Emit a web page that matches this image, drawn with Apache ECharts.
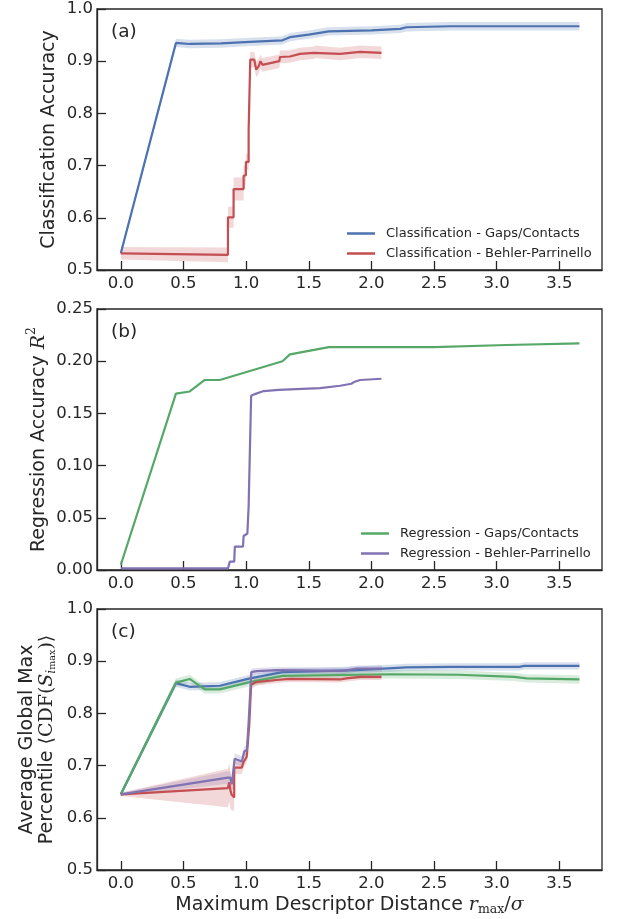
<!DOCTYPE html>
<html>
<head>
<meta charset="utf-8">
<script src="https://cdn.jsdelivr.net/npm/echarts@6/dist/echarts.min.js"></script>
<style>html,body{margin:0;padding:0;background:#fff}#c{width:633px;height:919px}</style>
</head>
<body>
<div id="c"></div>
<script>
// ---------- tick values ----------
const xTicks = [0, 0.5, 1.0, 1.5, 2.0, 2.5, 3.0, 3.5];

// ---------- panel (a): classification accuracy ----------
const aGapsX = [0, 0.44, 0.55, 0.80, 1.03, 1.29, 1.35, 1.50, 1.66, 2.00, 2.23, 2.28, 2.63, 3.20, 3.66];
const aGapsY = [0.532, 0.935, 0.933, 0.934, 0.937, 0.940, 0.946, 0.951, 0.957, 0.959, 0.962, 0.965, 0.967, 0.967, 0.967];
const aGapsErr = [0.005, 0.008, 0.008, 0.008, 0.008, 0.008, 0.008, 0.008, 0.008, 0.008, 0.008, 0.008, 0.008, 0.008, 0.008];

const aBPX = [0, 0.855, 0.855, 0.90, 0.90, 0.98, 0.98, 0.998, 0.998, 1.02, 1.02, 1.033, 1.065, 1.08, 1.10, 1.115, 1.13, 1.265, 1.27, 1.35, 1.43, 1.54, 1.55, 1.75, 1.91, 2.08];
const aBPY = [0.532, 0.529, 0.601, 0.601, 0.655, 0.655, 0.681, 0.681, 0.707, 0.707, 0.767, 0.903, 0.903, 0.884, 0.890, 0.900, 0.893, 0.900, 0.908, 0.909, 0.914, 0.916, 0.918, 0.914, 0.918, 0.916];
const aBPErr = [0.012, 0.014, 0.020, 0.020, 0.022, 0.022, 0.018, 0.018, 0.015, 0.015, 0.015, 0.015, 0.014, 0.015, 0.014, 0.013, 0.013, 0.013, 0.012, 0.012, 0.012, 0.012, 0.012, 0.012, 0.012, 0.012];

// ---------- panel (b): regression accuracy R^2 ----------
const bGapsX = [0, 0.44, 0.55, 0.67, 0.79, 1.29, 1.35, 1.66, 2.50, 3.08, 3.66];
const bGapsY = [0.005, 0.169, 0.171, 0.182, 0.182, 0.200, 0.2065, 0.2135, 0.2135, 0.2155, 0.217];

const bBPX = [0, 0.855, 0.87, 0.905, 0.91, 0.975, 0.98, 1.01, 1.02, 1.03, 1.04, 1.07, 1.14, 1.26, 1.59, 1.75, 1.84, 1.86, 1.91, 1.92, 2.08];
const bBPY = [0.0015, 0.0015, 0.008, 0.008, 0.0224, 0.0224, 0.0326, 0.035, 0.0607, 0.062, 0.167, 0.1685, 0.1714, 0.1726, 0.1742, 0.1765, 0.1784, 0.180, 0.182, 0.1832, 0.1832];

// ---------- panel (c): average global max percentile ----------
const cCGX = [0, 0.44, 0.55, 0.79, 1.03, 1.29, 1.88, 2.28, 2.63, 3.18, 3.22, 3.66];
const cCGY = [0.645, 0.858, 0.851, 0.853, 0.867, 0.879, 0.883, 0.888, 0.889, 0.889, 0.891, 0.891];
const cCGErr = [0.004, 0.007, 0.007, 0.007, 0.007, 0.007, 0.007, 0.007, 0.007, 0.007, 0.007, 0.007];

const cRGX = [0, 0.44, 0.55, 0.67, 0.79, 1.03, 1.29, 2.15, 2.69, 3.14, 3.24, 3.66];
const cRGY = [0.645, 0.859, 0.866, 0.846, 0.846, 0.860, 0.872, 0.875, 0.874, 0.870, 0.867, 0.865];
const cRGErr = [0.004, 0.008, 0.008, 0.008, 0.008, 0.008, 0.008, 0.008, 0.008, 0.008, 0.008, 0.008];

const cCBX = [0, 0.855, 0.865, 0.875, 0.885, 0.905, 0.905, 0.965, 0.98, 1.005, 1.01, 1.025, 1.04, 1.08, 1.24, 1.35, 1.75, 1.80, 1.91, 2.08];
const cCBY = [0.645, 0.657, 0.668, 0.652, 0.644, 0.639, 0.696, 0.696, 0.707, 0.717, 0.720, 0.778, 0.855, 0.860, 0.864, 0.866, 0.865, 0.867, 0.870, 0.870];
const cCBErr = [0.003, 0.037, 0.037, 0.035, 0.030, 0.025, 0.012, 0.012, 0.012, 0.010, 0.010, 0.010, 0.008, 0.007, 0.006, 0.006, 0.006, 0.006, 0.006, 0.006];

const cRBX = [0, 0.855, 0.873, 0.886, 0.90, 0.908, 0.966, 0.985, 1.006, 1.019, 1.041, 1.086, 1.246, 1.778, 1.884, 2.084];
const cRBY = [0.645, 0.677, 0.677, 0.6645, 0.6645, 0.713, 0.708, 0.727, 0.730, 0.778, 0.879, 0.881, 0.883, 0.8815, 0.886, 0.886];
const cRBErr = [0.003, 0.012, 0.012, 0.010, 0.010, 0.010, 0.010, 0.010, 0.008, 0.008, 0.007, 0.006, 0.006, 0.006, 0.006, 0.006];

// ---------- style ----------
const BLUE = '#4C72B0', GREEN = '#55A868', RED = '#C44E52', PURPLE = '#8172B2';
const INK = '#262626';
const FONT = 'DejaVu Sans';

const chart = echarts.init(document.getElementById('c'), null, {renderer: 'canvas'});

function zip(xs, ys) { return xs.map((x, i) => [x, ys[i]]); }

function lineSeries(name, gi, xs, ys, color, z) {
  return {
    name, type: 'line', xAxisIndex: gi, yAxisIndex: gi, data: zip(xs, ys),
    showSymbol: false, symbol: 'none', z: z || 3, animation: false,
    lineStyle: {color, width: 2.2}, itemStyle: {color}
  };
}

function bandSeries(gi, xs, ys, err, color) {
  const data = xs.map((x, i) => [x, ys[i] - err[i], ys[i] + err[i]]);
  return {
    type: 'custom', xAxisIndex: gi, yAxisIndex: gi, data, silent: true, z: 1, animation: false,
    encode: {x: 0, y: [1, 2]},
    renderItem(params, api) {
      if (params.dataIndex !== 0) return null;
      const up = [], lo = [];
      for (const d of data) {
        up.push(api.coord([d[0], d[2]]));
        lo.push(api.coord([d[0], d[1]]));
      }
      return {type: 'polygon', shape: {points: up.concat(lo.reverse())},
              style: {fill: color, opacity: 0.22}};
    }
  };
}

const grids = [
  {left: 97, right: 31, top: 9, height: 261},
  {left: 97, right: 31, top: 309, height: 261},
  {left: 97, right: 31, top: 609, height: 261}
].map(g => Object.assign(g, {show: true, borderColor: INK, borderWidth: 1.3, backgroundColor: 'transparent'}));

function xAxis(gi, withName) {
  const ax = {
    type: 'value', gridIndex: gi, min: -0.19, max: 3.84,
    axisLine: {show: true, onZero: false, lineStyle: {color: INK, width: 1.3}},
    axisTick: {show: true, inside: true, length: 9, lineStyle: {color: INK, width: 1.3}, customValues: xTicks},
    axisLabel: {show: true, margin: 5, fontSize: 16.5, fontFamily: FONT, color: INK, customValues: xTicks,
                formatter: v => v.toFixed(1)},
    splitLine: {show: false}
  };
  if (withName) {
    ax.name = '{t|Maximum Descriptor Distance }{m|r}{s|max}{u|/}{m|σ}';
    ax.nameLocation = 'middle';
    ax.nameGap = 26;
    ax.nameMoveOverlap = false;
    ax.nameTextStyle = {
      color: INK, fontFamily: FONT, fontSize: 19,
      rich: {
        t: {fontSize: 19, fontFamily: FONT, color: INK, verticalAlign: 'top', lineHeight: 20},
        m: {fontSize: 19, fontFamily: 'DejaVu Serif', fontStyle: 'italic', color: INK, verticalAlign: 'top', lineHeight: 20},
        u: {fontSize: 19, fontFamily: 'DejaVu Serif', color: INK, verticalAlign: 'top', lineHeight: 20},
        s: {fontSize: 12.5, fontFamily: 'DejaVu Serif', color: INK, verticalAlign: 'bottom', lineHeight: 13}
      }
    };
  }
  return ax;
}

function yAxis(gi, min, max, interval, digits, name, gap, rich) {
  return {
    type: 'value', gridIndex: gi, min, max, interval,
    axisLine: {show: true, onZero: false, lineStyle: {color: INK, width: 1.3}},
    axisTick: {show: true, inside: true, length: 9, lineStyle: {color: INK, width: 1.3}},
    axisLabel: {show: true, margin: 4, fontSize: 16.5, fontFamily: FONT, color: INK,
                formatter: v => v.toFixed(digits)},
    splitLine: {show: false},
    name, nameLocation: 'middle', nameRotate: 90, nameGap: gap, nameMoveOverlap: false,
    nameTextStyle: Object.assign({color: INK, fontFamily: FONT, fontSize: 19}, rich ? {rich} : {})
  };
}

const richR2 = {
  t: {fontSize: 19, fontFamily: FONT, color: INK, verticalAlign: 'bottom', lineHeight: 24},
  m: {fontSize: 19, fontFamily: 'DejaVu Serif', fontStyle: 'italic', color: INK, verticalAlign: 'bottom', lineHeight: 24},
  p: {fontSize: 12.5, fontFamily: 'DejaVu Serif', color: INK, verticalAlign: 'top', lineHeight: 13}
};
const richCDF = {
  t: {fontSize: 19, fontFamily: FONT, color: INK, verticalAlign: 'top', lineHeight: 20},
  u: {fontSize: 19, fontFamily: 'DejaVu Serif', color: INK, verticalAlign: 'top', lineHeight: 20},
  m: {fontSize: 19, fontFamily: 'DejaVu Serif', fontStyle: 'italic', color: INK, verticalAlign: 'top', lineHeight: 20},
  s: {fontSize: 12.5, fontFamily: 'DejaVu Serif', fontStyle: 'italic', color: INK, verticalAlign: 'bottom', lineHeight: 12},
  ss: {fontSize: 9.5, fontFamily: 'DejaVu Serif', color: INK, verticalAlign: 'bottom', lineHeight: 9}
};

const legendBase = {
  orient: 'vertical', icon: 'rect', itemWidth: 28, itemHeight: 2.5, itemGap: 5, padding: 0,
  textStyle: {fontSize: 13, fontFamily: FONT, color: INK, lineHeight: 15, padding: [0, 0, 0, 6]},
  selectedMode: false
};

const panelLabel = (txt, top) => ({
  type: 'text', left: 111, top, style: {text: txt, fontSize: 18.5, fontFamily: FONT, fill: INK}
});

const option = {
  backgroundColor: '#fff',
  animation: false,
  grid: grids,
  xAxis: [xAxis(0, false), xAxis(1, false), xAxis(2, true)],
  yAxis: [
    yAxis(0, 0.5, 1.0, 0.1, 1, 'Classification Accuracy', 38),
    yAxis(1, 0, 0.25, 0.05, 2, '{t|Regression Accuracy }{m|R}{p|2}', 48, richR2),
    yAxis(2, 0.5, 1.0, 0.1, 1,
      '{t|Average Global Max}\n{t|Percentile }{u|⟨CDF(}{m|S}{s|i}{ss|max}{u|)⟩}', 39, richCDF)
  ],
  legend: [
    Object.assign({}, legendBase, {left: 347, top: 226,
      data: ['Classification - Gaps/Contacts', 'Classification - Behler-Parrinello']}),
    Object.assign({}, legendBase, {left: 361, top: 526,
      data: ['Regression - Gaps/Contacts', 'Regression - Behler-Parrinello']})
  ],
  graphic: [panelLabel('(a)', 23), panelLabel('(b)', 323), panelLabel('(c)', 623)],
  series: [
    bandSeries(0, aGapsX, aGapsY, aGapsErr, BLUE),
    bandSeries(0, aBPX, aBPY, aBPErr, RED),
    lineSeries('Classification - Gaps/Contacts', 0, aGapsX, aGapsY, BLUE, 3),
    lineSeries('Classification - Behler-Parrinello', 0, aBPX, aBPY, RED, 4),

    lineSeries('Regression - Gaps/Contacts', 1, bGapsX, bGapsY, GREEN, 3),
    lineSeries('Regression - Behler-Parrinello', 1, bBPX, bBPY, PURPLE, 4),

    bandSeries(2, cCGX, cCGY, cCGErr, BLUE),
    bandSeries(2, cRGX, cRGY, cRGErr, GREEN),
    bandSeries(2, cCBX, cCBY, cCBErr, RED),
    bandSeries(2, cRBX, cRBY, cRBErr, PURPLE),
    lineSeries('c Classification - Gaps/Contacts', 2, cCGX, cCGY, BLUE, 3),
    lineSeries('c Regression - Gaps/Contacts', 2, cRGX, cRGY, GREEN, 4),
    lineSeries('c Classification - Behler-Parrinello', 2, cCBX, cCBY, RED, 5),
    lineSeries('c Regression - Behler-Parrinello', 2, cRBX, cRBY, PURPLE, 6)
  ]
};
chart.setOption(option);
</script>
</body>
</html>
